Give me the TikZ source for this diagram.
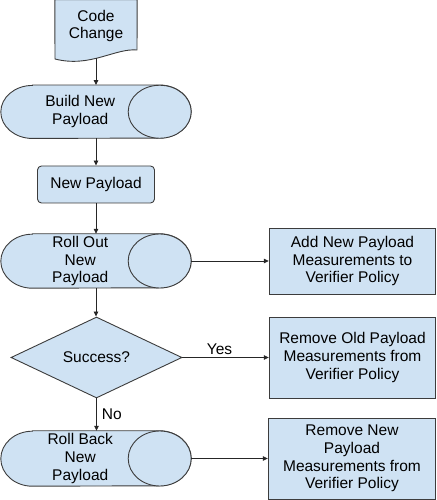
\documentclass[tikz,border=0pt]{standalone}
\usepackage{fontspec}
\setmainfont{Liberation Sans}
\usetikzlibrary{shapes.geometric,arrows.meta,calc,backgrounds}
\definecolor{boxfill}{HTML}{CFE2F3}
\definecolor{edgecol}{HTML}{3C3C3C}
\begin{document}
\begin{tikzpicture}[x=1pt,y=1pt,
  font=\fontsize{15.5}{17.8}\selectfont,
  shapeline/.style={draw=edgecol, line width=0.9pt, fill=boxfill},
  procbox/.style={shapeline, rectangle, align=center, inner sep=0pt},
  cylbody/.style={rectangle, align=center, inner sep=0pt, minimum width=158.5pt},
  arr/.style={draw=black!85, line width=0.8pt, -{Triangle[length=5pt,width=4.5pt]}},
  lbl/.style={inner sep=2pt}]
\useasboundingbox (0,0) rectangle (436,500);

% Code Change (document shape)
\node[align=center, inner sep=0pt, minimum width=82pt, minimum height=52pt] (code) at (96,474) {Code\\Change};
\begin{scope}[on background layer]
  \draw[shapeline] (code.north west) -- (code.north east) -- (137,450)
    .. controls (115,452) and (90,432) .. (55,441) -- cycle;
\end{scope}

% horizontal cylinders (text body spans x=1..159.5, end face to x=191)
\node[cylbody, minimum height=53pt] (build) at (80.25,388.25) {Build New\\Payload};
\node[procbox, rounded corners=4pt, minimum width=117pt, minimum height=37pt] (newp) at (96,315.5) {New Payload};
\node[cylbody, minimum height=54pt] (rollout) at (80.25,239) {Roll Out\\New\\Payload};
\node[procbox, minimum width=166.5pt, minimum height=66pt] (add) at (352.5,239) {Add New Payload\\Measurements to\\Verifier Policy};
\node[shapeline, diamond, minimum width=171pt, minimum height=81pt, inner sep=0pt] (succ) at (96.5,142.5) {Success?};
\node[procbox, minimum width=166.5pt, minimum height=81pt] (remold) at (352.5,142.5) {Remove Old Payload\\Measurements from\\Verifier Policy};
\node[cylbody, minimum height=55pt] (rollback) at (80.25,41.5) {Roll Back\\New\\Payload};
\node[procbox, minimum width=167.5pt, minimum height=81pt] (remnew) at (352,41.5) {Remove New\\Payload\\Measurements from\\Verifier Policy};

\begin{scope}[on background layer]
  \foreach \n/\ry in {build/26.5, rollout/27, rollback/27.5}{
    \draw[shapeline] ($(\n.north west)+(31.5,0)$) -- (\n.north east)
      arc[start angle=90, end angle=-90, x radius=31.5, y radius=\ry]
      -- ($(\n.south west)+(31.5,0)$)
      arc[start angle=270, end angle=90, x radius=31.5, y radius=\ry] -- cycle;
    \draw[shapeline] (\n.east) ellipse[x radius=31.5, y radius=\ry];
    \coordinate (\n-e) at ($(\n.east)+(31.5,0)$);
  }
\end{scope}

\draw[arr] ([yshift=-6pt]code.south) -- (code.south |- build.north);
\draw[arr] (code.south |- build.south) -- (code.south |- newp.north);
\draw[arr] (newp.south) -- (newp.south |- rollout.north);
\draw[arr] (rollout-e) -- (add.west);
\draw[arr] (code.south |- rollout.south) -- (code.south |- succ.north);
\draw[arr] (succ.east) -- node[lbl, pos=0.43, above] {Yes} (remold.west);
\draw[arr] (succ.south) -- node[lbl, midway, right, xshift=3pt] {No} (succ.south |- rollback.north);
\draw[arr] (rollback-e) -- (remnew.west);
\end{tikzpicture}
\end{document}
